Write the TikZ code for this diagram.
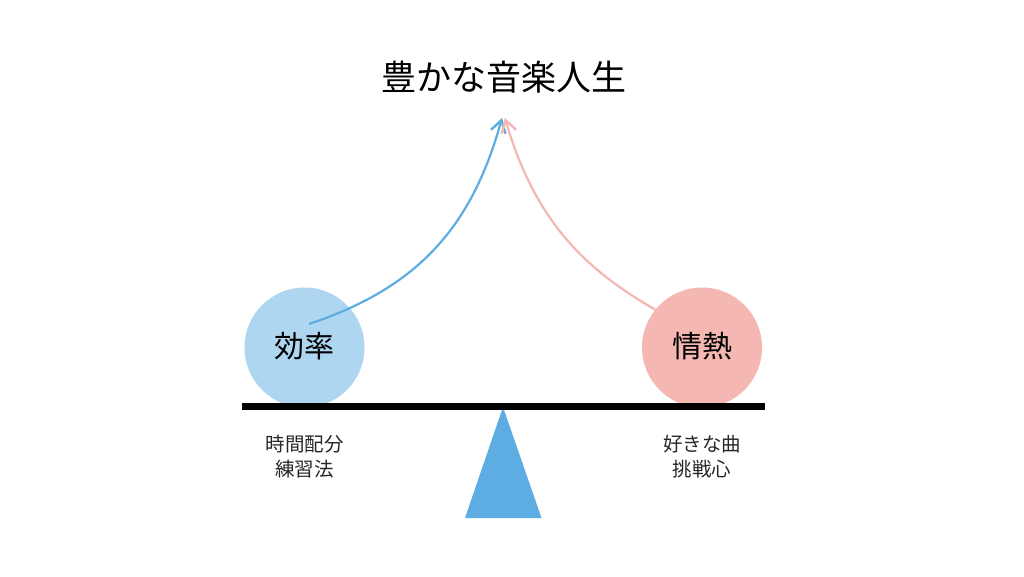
\documentclass[tikz,border=0pt]{standalone}
\usepackage{fontspec}
\setmainfont{Noto Sans CJK JP}
\usetikzlibrary{arrows.meta,bending}
\definecolor{lblue}{HTML}{AED6F1}
\definecolor{lpink}{HTML}{F5B7B1}
\definecolor{mblue}{HTML}{5DADE2}
\tikzset{
  ball/.style={circle,minimum size=120pt,inner sep=0pt,draw=none},
  lab/.style={font=\fontsize{30pt}{36pt}\selectfont,text=black,inner sep=0pt},
  sub/.style={font=\fontsize{19.5pt}{25pt}\selectfont,align=center,text=black!85,inner sep=0pt},
  curve/.style={line width=2.2pt,-{Straight Barb[length=12pt,width=15pt,line width=2.4pt,flex=1]}}
}
\begin{document}
\begin{tikzpicture}[x=1pt,y=-1pt]
\useasboundingbox (0,0) rectangle (1024,576);
\fill[white] (0,0) rectangle (1024,576);
\node[ball,fill=lblue] (eff) at (304.5,347.5) {};
\node[ball,fill=lpink] (pas) at (702,347.5) {};
\coordinate (tipa) at (502,118);
\coordinate (tipb) at (505,118);
\coordinate (start) at (309,324);
\draw[curve,mblue] (start) .. controls (420,287) and (473,225) .. (tipa);
\draw[curve,lpink] (pas.141) .. controls (590,272) and (535,225) .. (tipb);
\fill[mblue] (503,407) coordinate (apex) -- (541.5,518) -- (465,518) -- cycle;
\fill[black] (242,403) rectangle (764.5,409.5);
\node[lab] (effl) at (304.5,346) {効率};
\node[lab] (pasl) at (702.5,346) {情熱};
\node[font=\fontsize{35pt}{42pt}\selectfont,inner sep=0pt] (title) at (503.5,77) {豊かな音楽人生};
\node[sub] (effs) at (304.5,457) {時間配分\\練習法};
\node[sub] (pass) at (702,457) {好きな曲\\挑戦心};
\end{tikzpicture}
\end{document}
